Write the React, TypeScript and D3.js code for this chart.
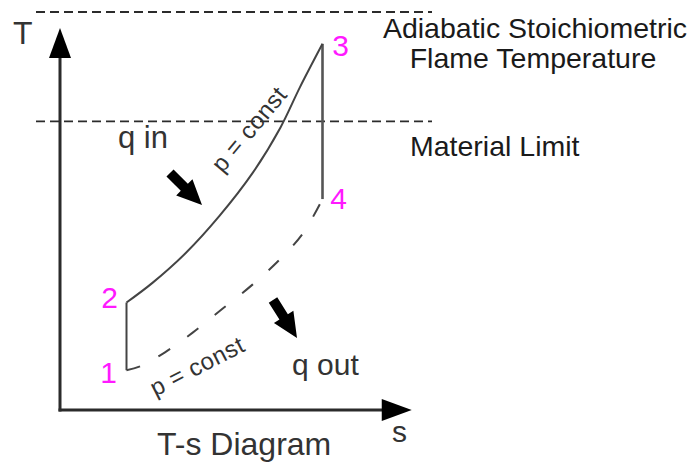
import React from "react";
import * as d3 from "d3";

// cycle states (entropy s, temperature T)
const stateIds = ["1", "2", "3", "4"];
const stateS = [19, 19, 75, 75];
const stateT = [10, 27, 92, 53];

// heat addition at constant pressure, 2 -> 3
const heatS = [19, 26.5, 36, 45.5, 55, 63, 68.5, 75];
const heatT = [27, 32, 39.5, 48.7, 59.5, 71, 81, 92];

// heat rejection at constant pressure, 1 -> 4
const coolS = [19, 23, 30, 38, 46.5, 55, 63, 69.5, 75];
const coolT = [10, 11, 14.5, 19.5, 25.5, 31.5, 38, 44.5, 53];

// temperature limits
const limitLabels = [["Adiabatic Stoichiometric", "Flame Temperature"], ["Material Limit"]];
const limitT = [100, 72.5];

const W = 695;
const H = 464;
const FONT = "'Liberation Sans', Arial, sans-serif";
const MAGENTA = "#ff1aff";

// block arrow from tail to tip
function blockArrow(x0: number, y0: number, x1: number, y1: number) {
  const dx = x1 - x0, dy = y1 - y0;
  const len = Math.hypot(dx, dy);
  const ux = dx / len, uy = dy / len;
  const px = -uy, py = ux;
  const shaftW = 5, headW = 11.5, headL = 25;
  const bx = x1 - ux * headL, by = y1 - uy * headL;
  const pts = [
    [x0 + px * shaftW, y0 + py * shaftW],
    [bx + px * shaftW, by + py * shaftW],
    [bx + px * headW, by + py * headW],
    [x1, y1],
    [bx - px * headW, by - py * headW],
    [bx - px * shaftW, by - py * shaftW],
    [x0 - px * shaftW, y0 - py * shaftW],
  ];
  return "M" + pts.map((p) => p.join(",")).join("L") + "Z";
}

export default function App() {
  const x = d3.scaleLinear().domain([0, 100]).range([60, 410]);
  const y = d3.scaleLinear().domain([0, 100]).range([410, 12]);

  const sMax = 100.5;
  const tMax = 96;

  const line = d3
    .line<[number, number]>()
    .x((d) => x(d[0]))
    .y((d) => y(d[1]))
    .curve(d3.curveCatmullRom.alpha(0.5));

  const heatPath = line(heatS.map((s, i) => [s, heatT[i]]) as [number, number][]) || "";
  const coolPath = line(coolS.map((s, i) => [s, coolT[i]]) as [number, number][]) || "";

  const x0 = x(0), y0 = y(0);
  const ax = x(sMax), ay = y(tMax);

  // label offsets for state numbers
  const numDx = [-18, -17, 18, 16];
  const numDy = [13, 5, 12, 10];

  return (
    <svg
      width={W}
      height={H}
      style={{ position: "absolute", left: 0, top: 0, background: "#fff" }}
      fontFamily={FONT}
    >
      {/* limit lines */}
      {limitT.map((t, i) => (
        <line
          key={"lim" + i}
          x1={36}
          x2={432}
          y1={y(t)}
          y2={y(t)}
          stroke="#2b2b2b"
          strokeWidth={1.8}
          strokeDasharray="9 5"
        />
      ))}
      <text x={535} y={38} fontSize={28.5} textAnchor="middle" fill="#1a1a1a">
        {limitLabels[0][0]}
      </text>
      <text x={533} y={68} fontSize={28.5} textAnchor="middle" fill="#1a1a1a">
        {limitLabels[0][1]}
      </text>
      <text x={410} y={y(limitT[1]) + 35} fontSize={28.5} fill="#1a1a1a">
        {limitLabels[1][0]}
      </text>

      {/* axes */}
      <line x1={x0 - 1.5} x2={ax - 28} y1={y0} y2={y0} stroke="#2b2b2b" strokeWidth={3} />
      <line x1={x0} x2={x0} y1={y0 + 1.5} y2={ay + 28} stroke="#2b2b2b" strokeWidth={3} />
      <path d={`M${ax},${y0}L${ax - 30},${y0 - 11}L${ax - 30},${y0 + 11}Z`} fill="#000" />
      <path d={`M${x0},${ay}L${x0 - 11},${ay + 30}L${x0 + 11},${ay + 30}Z`} fill="#000" />
      <text x={13} y={44} fontSize={32} fill="#333">T</text>
      <text x={392} y={442} fontSize={30} fill="#333">s</text>
      <text x={157} y={455} fontSize={32} fill="#333">T-s Diagram</text>

      {/* cycle */}
      <line
        x1={x(stateS[0])}
        x2={x(stateS[1])}
        y1={y(stateT[0])}
        y2={y(stateT[1])}
        stroke="#444"
        strokeWidth={2}
      />
      <line
        x1={x(stateS[2])}
        x2={x(stateS[3])}
        y1={y(stateT[2])}
        y2={y(stateT[3])}
        stroke="#555"
        strokeWidth={2.6}
      />
      <path d={heatPath} fill="none" stroke="#444" strokeWidth={2} />
      <path d={coolPath} fill="none" stroke="#444" strokeWidth={2} strokeDasharray="14 21" />

      {stateIds.map((id, i) => (
        <text
          key={id}
          x={x(stateS[i]) + numDx[i]}
          y={y(stateT[i]) + numDy[i]}
          fontSize={30}
          textAnchor="middle"
          fill={MAGENTA}
        >
          {id}
        </text>
      ))}

      {/* p = const labels */}
      <text
        transform="translate(249,129) rotate(-50)"
        fontSize={24}
        letterSpacing={0.5}
        textAnchor="middle"
        dominantBaseline="central"
        fill="#333"
      >
        p = const
      </text>
      <text
        transform="translate(197,366) rotate(-27)"
        fontSize={24}
        letterSpacing={0.5}
        textAnchor="middle"
        dominantBaseline="central"
        fill="#333"
      >
        p = const
      </text>

      {/* heat flow */}
      <path d={blockArrow(170, 173, 202, 205)} fill="#000" />
      <path d={blockArrow(273, 300, 297, 338)} fill="#000" />
      <text x={118} y={148} fontSize={31} fill="#333">q in</text>
      <text x={292} y={375} fontSize={30} fill="#333">q out</text>
    </svg>
  );
}
